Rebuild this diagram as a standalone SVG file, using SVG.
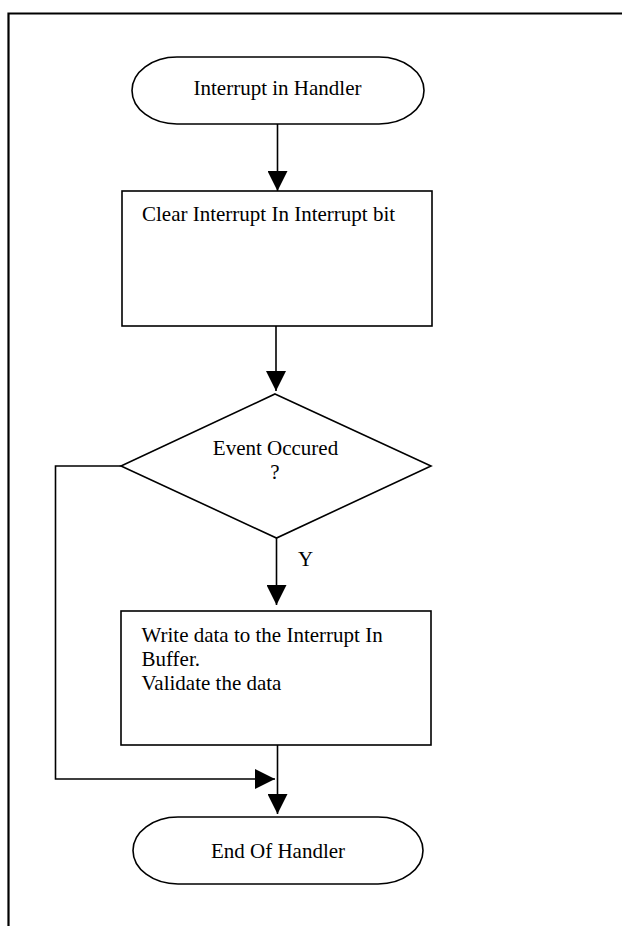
<svg xmlns="http://www.w3.org/2000/svg" width="622" height="926" viewBox="0 0 622 926">
  <style>
    .shape { fill: #ffffff; stroke: #000000; stroke-width: 1.6; }
    .conn { fill: none; stroke: #000000; stroke-width: 1.6; }
    .frame { fill: none; stroke: #000000; stroke-width: 2.2; }
    .lbl { font-family: "Liberation Serif", "Times New Roman", serif; font-size: 21px; fill: #000000; }
    .mid { text-anchor: middle; }
  </style>
  <defs>
    <marker id="arrow" viewBox="0 0 20 20" refX="20" refY="10" markerWidth="20" markerHeight="20" markerUnits="userSpaceOnUse" orient="auto">
      <path d="M0,0 L20,10 L0,20 z" fill="#000000"/>
    </marker>
  </defs>

  <rect x="0" y="0" width="622" height="926" fill="#ffffff"/>

  <!-- page frame -->
  <path class="frame" d="M8.5,926 V13.5 H622"/>

  <!-- connectors -->
  <g id="connectors">
    <path class="conn" d="M277.5,124 V191" marker-end="url(#arrow)"/>
    <path class="conn" d="M276,326 V391" marker-end="url(#arrow)"/>
    <path class="conn" d="M276.5,538 V605" marker-end="url(#arrow)"/>
    <path class="conn" d="M277.5,745 V814" marker-end="url(#arrow)"/>
    <path class="conn" d="M121,466 H55.5 V779 H275" marker-end="url(#arrow)"/>
    <text class="lbl" x="298" y="566">Y</text>
  </g>

  <!-- start terminator -->
  <g id="start">
    <path class="shape" d="M177,57 H379 A45,33.5 0 0 1 379,124 H177 A45,33.5 0 0 1 177,57 Z"/>
    <text class="lbl mid" x="277.5" y="95">Interrupt in Handler</text>
  </g>

  <!-- clear interrupt process -->
  <g id="clear">
    <rect class="shape" x="122" y="191" width="310" height="135"/>
    <text class="lbl" x="142" y="221">Clear Interrupt In Interrupt bit</text>
  </g>

  <!-- event decision -->
  <g id="decision">
    <polygon class="shape" points="275,394 431,466 276.5,538 121,466"/>
    <text class="lbl mid" x="275.5" y="455">Event Occured</text>
    <text class="lbl mid" x="275" y="479">?</text>
  </g>

  <!-- write data process -->
  <g id="write">
    <rect class="shape" x="121" y="611" width="310" height="134"/>
    <text class="lbl" x="141.5" y="642">Write data to the Interrupt In</text>
    <text class="lbl" x="141.5" y="666">Buffer.</text>
    <text class="lbl" x="141.5" y="690">Validate the data</text>
  </g>

  <!-- end terminator -->
  <g id="end">
    <path class="shape" d="M178,817 H378 A45,33.5 0 0 1 378,884 H178 A45,33.5 0 0 1 178,817 Z"/>
    <text class="lbl mid" x="278" y="858">End Of Handler</text>
  </g>
</svg>
